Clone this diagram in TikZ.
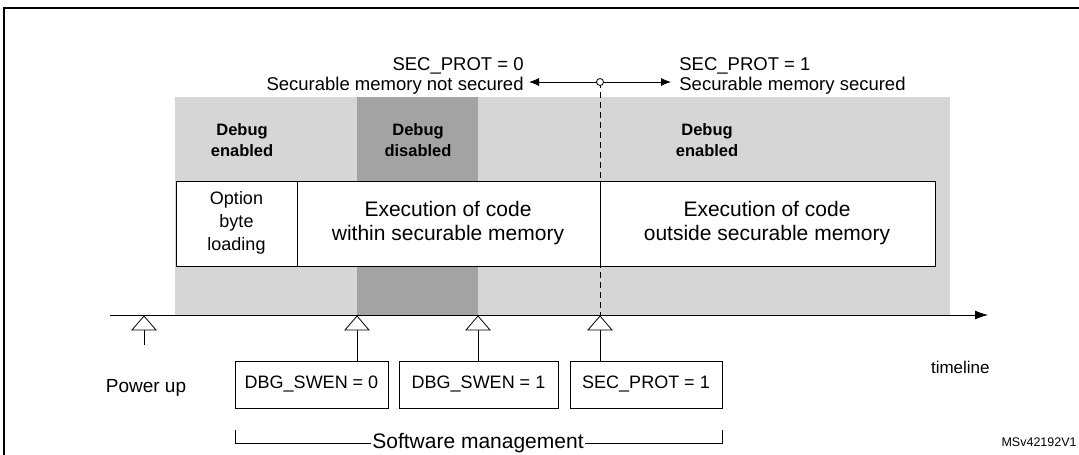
\documentclass[tikz,border=0pt]{standalone}
\usepackage{fontspec}
\setmainfont{Liberation Sans}
\usetikzlibrary{arrows.meta}
\begin{document}
\begin{tikzpicture}[x=1pt,y=-1pt,
  lbl/.style={font=\fontsize{19}{24}\selectfont, align=center, inner sep=0},
  dbg/.style={font=\fontsize{16.5}{21}\selectfont\bfseries, align=center, inner sep=0},
  top/.style={font=\fontsize{18.5}{20}\selectfont, inner sep=0},
  box/.style={draw, line width=0.8pt, minimum height=47pt, inner sep=0, font=\fontsize{18}{21}\selectfont},
  tri/.style={draw, fill=white, line width=0.8pt},
  line width=0.8pt]
\useasboundingbox (0,0) rectangle (1079,455);
\draw[line width=1.2pt] (4,455) -- (4,8) -- (1079,8);
% grey regions
\fill[black!16] (175,97) rectangle (950,315);
\fill[black!36] (357,97) rectangle (478,315);
\node[dbg] (d1) at (242,140) {Debug\\enabled};
\node[dbg] (d2) at (418,140) {Debug\\disabled};
\node[dbg] (d3) at (707,140) {Debug\\enabled};
% white box
\draw[fill=white] (176,181) rectangle (935,266);
\draw (297,181) -- (297,266);
\draw (600,181) -- (600,266);
\node[lbl, font=\fontsize{18}{23}\selectfont] (ob) at (236.5,223) {Option\\byte\\loading};
\node[lbl, font=\fontsize{21}{24}\selectfont] (ex1) at (448,223) {Execution of code\\within securable memory};
\node[lbl, font=\fontsize{21}{24}\selectfont] (ex2) at (767,223) {Execution of code\\outside securable memory};
% dashed line and top
\coordinate (c) at (600,82);
\coordinate (tl) at (600,315);
\draw[dash pattern=on 6pt off 4pt] (c) -- (tl);
\coordinate (la) at (529,82);
\coordinate (ra) at (671,82);
\draw[-{Latex[length=10pt,width=8pt]}] (c) -- (la);
\draw[-{Latex[length=10pt,width=8pt]}] (c) -- (ra);
\node[draw, circle, fill=white, minimum size=7pt, inner sep=0] (cc) at (c) {};
\node[top, anchor=east, align=right] (t0) at (524,76) {SEC\_PROT = 0\\Securable memory not secured};
\node[top, anchor=west, align=left] (t1) at (679,76) {SEC\_PROT = 1\\Securable memory secured};
% timeline
\coordinate (ts) at (110,315);
\coordinate (te) at (988,315);
\draw[-{Latex[length=13pt,width=9pt]}] (ts) -- (te);
\node[lbl, font=\fontsize{17}{20}\selectfont, anchor=east] (tl2) at (990,367) {timeline};
% boxes
\node[box, minimum width=153pt] (b1) at (311.5,384.5) {DBG\_SWEN = 0};
\node[box, minimum width=159pt] (b2) at (478.5,384.5) {DBG\_SWEN = 1};
\node[box, minimum width=152pt] (b3) at (646,384.5) {SEC\_PROT = 1};
\node[lbl] (pu) at (146,388) {Power up};
% triangles with stems
\foreach \x/\e in {144/345, 357/361, 478/361, 600/361}{
  \draw (\x,328) -- (\x,\e);
  \draw[tri] (\x,316) -- (\x-12,330) -- (\x+12,330) -- cycle;
}
% bracket
\node[lbl, font=\fontsize{21}{24}\selectfont, fill=white, inner xsep=1pt] (sm) at (478,443) {Software management};
\draw (235,430) -- (235,443) -- (sm.west);
\draw (sm.east) -- (722,443) -- (722,430);
\node[font=\fontsize{12.5}{15}\selectfont, anchor=east, inner sep=0] (id) at (1077,442) {MSv42192V1};
\end{tikzpicture}
\end{document}
